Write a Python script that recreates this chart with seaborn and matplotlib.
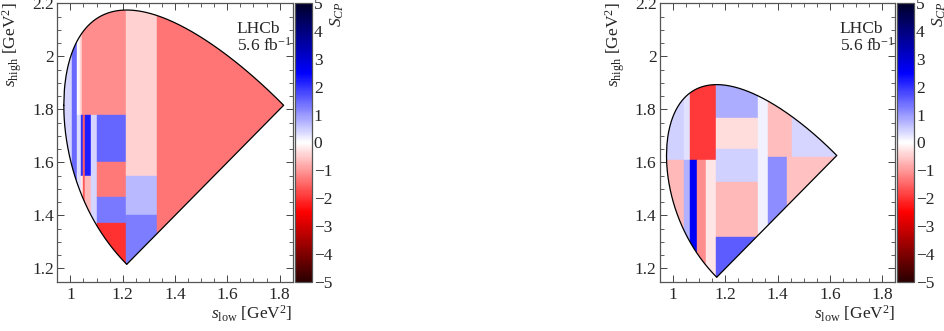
import numpy as np
import matplotlib
matplotlib.use("Agg")
import matplotlib.pyplot as plt
from matplotlib.patches import Rectangle, Polygon
from matplotlib.collections import PatchCollection
from matplotlib.colors import Normalize
from matplotlib.ticker import MultipleLocator
import seaborn as sns

# masses in GeV
M_DS = 1.96835
M_DP = 1.86966
M_K = 0.493677

# Ds+ -> K- K+ K+ : bins in (s_low, s_high) and measured S_CP
ds_x0 = [0.95, 1.005, 1.024, 1.035, 1.045, 1.024, 1.041, 1.041, 1.049, 1.056,
         1.056, 1.078, 1.103, 1.103, 1.103, 1.103, 1.213, 1.213, 1.213, 1.33]
ds_x1 = [1.005, 1.024, 1.035, 1.045, 1.213, 1.041, 1.049, 1.049, 1.056, 1.078,
         1.078, 1.103, 1.213, 1.213, 1.213, 1.213, 1.33, 1.33, 1.33, 1.85]
ds_y0 = [1.15, 1.15, 1.778, 1.778, 1.778, 1.15, 1.55, 1.15, 1.15, 1.55,
         1.15, 1.15, 1.6, 1.469, 1.37, 1.15, 1.55, 1.40, 1.15, 1.15]
ds_y1 = [2.2, 2.2, 2.2, 2.2, 2.2, 1.778, 1.778, 1.55, 1.778, 1.778,
         1.55, 1.778, 1.778, 1.6, 1.469, 1.37, 2.2, 1.55, 1.40, 2.2]
ds_scp = [0.4, 1.45, -0.05, -0.4, -1.1, 0.35, 2.0, -0.2, -1.6, 2.2,
          -0.7, 0.4, 1.5, -1.3, 1.3, -2.0, -0.45, 0.7, 1.25, -1.35]

# D+ -> K- K+ K+
dp_x0 = [0.95, 0.95, 1.043, 1.043, 1.063, 1.063, 1.093, 1.127, 1.165, 1.165,
         1.165, 1.165, 1.165, 1.324, 1.364, 1.453, 1.364, 1.434]
dp_x1 = [1.043, 1.043, 1.063, 1.063, 1.165, 1.093, 1.127, 1.165, 1.324, 1.324,
         1.324, 1.324, 1.324, 1.364, 1.453, 1.85, 1.434, 1.85]
dp_y0 = [1.609, 1.15, 1.609, 1.15, 1.609, 1.15, 1.15, 1.15, 1.768, 1.649,
         1.527, 1.320, 1.15, 1.15, 1.619, 1.619, 1.15, 1.15]
dp_y1 = [2.2, 1.609, 2.2, 1.609, 2.2, 1.609, 1.609, 1.609, 2.2, 1.768,
         1.649, 1.527, 1.320, 2.2, 2.2, 2.2, 1.619, 1.619]
dp_scp = [0.45, -0.7, 0.3, 0.75, -1.95, 2.6, -1.1, -0.25, 0.8, -0.35,
          0.45, -0.7, 1.6, 0.15, -0.65, 0.4, 1.1, -0.6]

cbar_ticks = [-5, -4, -3, -2, -1, 0, 1, 2, 3, 4, 5]


def folded_dalitz(M, m, n=400):
    """Boundary of the folded Dalitz plot (s_low, s_high) for P -> 3 identical-mass daughters."""
    total = M**2 + 3 * m**2
    s_min = 4 * m**2
    s_right = (total - s_min) / 2
    s_bottom = (total - (M - m)**2) / 2

    def s13_range(s):
        e2 = np.sqrt(s) / 2
        e3 = (M**2 - s - m**2) / (2 * np.sqrt(s))
        p2 = np.sqrt(np.clip(e2**2 - m**2, 0, None))
        p3 = np.sqrt(np.clip(e3**2 - m**2, 0, None))
        return (e2 + e3)**2 - (p2 + p3)**2, (e2 + e3)**2 - (p2 - p3)**2

    s_up = np.linspace(s_min, s_right, n)
    s_dn = np.linspace(s_min, s_bottom, n)
    hi = s13_range(s_up)[1]
    lo = s13_range(s_dn)[0]
    x = np.concatenate([s_up, [s_right, s_bottom], s_dn[::-1]])
    y = np.concatenate([hi, [s_right, s_bottom], lo[::-1]])
    return x, y


sns.set_style("ticks", {"xtick.direction": "in", "ytick.direction": "in"})
plt.rcParams["font.family"] = ["Liberation Serif", "DejaVu Serif"]
plt.rcParams["mathtext.fontset"] = "custom"
plt.rcParams["mathtext.rm"] = "Liberation Serif"
plt.rcParams["mathtext.it"] = "Liberation Serif:italic"
plt.rcParams["mathtext.bf"] = "Liberation Serif:bold"

cmap = sns.blend_palette(["#2b0000", "#ff0000", "#ffffff", "#0000ff", "#00002b"], as_cmap=True)
norm = Normalize(vmin=-5, vmax=5)

W, H = 944, 331
fig = plt.figure(figsize=(W / 100, H / 100), dpi=100)
FS = 12.5


def draw_panel(left_px, cbar_px, M, x0, x1, y0, y1, scp):
    bottom = (H - 281.7) / H
    height = 278.4 / H
    ax = fig.add_axes([left_px / W, bottom, 235.4 / W, height])
    cax = fig.add_axes([cbar_px / W, bottom, 16.7 / W, height])

    bx, by = folded_dalitz(M, M_K)
    edge = Polygon(np.column_stack([bx, by]), closed=True, facecolor="none",
                   edgecolor="none", transform=ax.transData)
    ax.add_patch(edge)

    rects = [Rectangle((a, c), b - a, d - c) for a, b, c, d in zip(x0, x1, y0, y1)]
    coll = PatchCollection(rects, cmap=cmap, norm=norm, edgecolor="face", linewidth=0.3)
    coll.set_array(np.array(scp))
    ax.add_collection(coll)
    coll.set_clip_path(edge)

    sns.lineplot(x=bx, y=by, sort=False, estimator=None, color="black",
                 linewidth=0.9, ax=ax)

    ax.set_xlim(0.95, 1.85)
    ax.set_ylim(1.15, 2.2)
    ax.xaxis.set_major_locator(MultipleLocator(0.2))
    ax.xaxis.set_minor_locator(MultipleLocator(0.05))
    ax.yaxis.set_major_locator(MultipleLocator(0.2))
    ax.yaxis.set_minor_locator(MultipleLocator(0.05))
    ax.xaxis.set_major_formatter(plt.FuncFormatter(lambda v, p: f"{v:g}"))
    ax.yaxis.set_major_formatter(plt.FuncFormatter(lambda v, p: f"{v:g}"))
    ax.tick_params(which="both", top=True, right=True, direction="in",
                   color="#444444", labelsize=FS)
    ax.tick_params(which="major", length=5, width=0.7)
    ax.tick_params(which="minor", length=2.8, width=0.6)
    ax.tick_params(axis="x", pad=4)
    ax.tick_params(axis="y", pad=2.5)
    for sp in ax.spines.values():
        sp.set_color("#555555")
        sp.set_linewidth(0.9)

    ax.text(0.763, 0.937, "LHCb", transform=ax.transAxes, ha="left", va="top", fontsize=FS)
    ax.text(0.763, 0.879, r"5.6 fb$^{-1}$", transform=ax.transAxes, ha="left", va="top",
            fontsize=FS)

    fig.text((left_px - 45) / W, 1 - 2 / H, r"$s_{\rm high}$ [GeV$^2$]", rotation=90,
             ha="center", va="top", fontsize=FS)
    fig.text((left_px + 235.4) / W, 1 - 314 / H, r"$s_{\rm low}$ [GeV$^2$]",
             ha="right", va="center", fontsize=FS)

    cb = fig.colorbar(coll, cax=cax, ticks=cbar_ticks)
    cb.outline.set_edgecolor("#555555")
    cb.outline.set_linewidth(0.9)
    cax.tick_params(direction="in", length=4, width=0.7, color="#333333",
                    labelsize=FS, pad=1.5)
    cax.minorticks_off()
    fig.text((cbar_px + 42) / W, 1 - 1 / H, r"$S_{CP}$", rotation=90,
             ha="center", va="top", fontsize=FS)
    return ax


draw_panel(57.3, 295.0, M_DS, ds_x0, ds_x1, ds_y0, ds_y1, ds_scp)
draw_panel(660.0, 897.3, M_DP, dp_x0, dp_x1, dp_y0, dp_y1, dp_scp)

fig.savefig("out.png", dpi=100)
